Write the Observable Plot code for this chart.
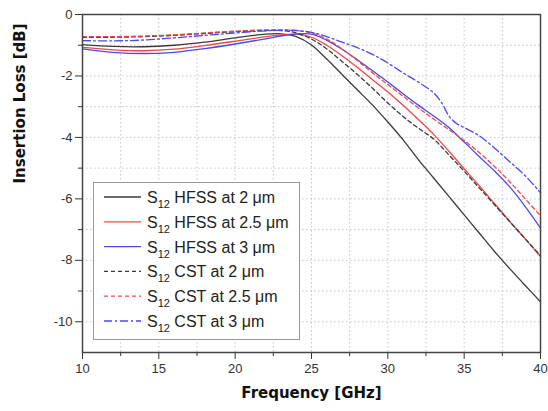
<!DOCTYPE html>
<html>
<head>
<meta charset="utf-8">
<script src="https://cdn.jsdelivr.net/npm/d3@7"></script>
<script src="https://cdn.jsdelivr.net/npm/@observablehq/plot@0.6"></script>
<style>
  html, body { margin: 0; padding: 0; background: #fff; }
  #chart svg { display: block; }
</style>
</head>
<body>
<div id="chart"></div>
<script>
// ---- data ----
const freq = [10,12,14,16,18,20,22,23,24,25,26,27,28,29,30,31,32,33,34,35,36,37,38,39,40];
const hfss2  = [-0.98,-1.04,-1.05,-1.00,-0.90,-0.76,-0.64,-0.63,-0.72,-0.99,-1.45,-1.95,-2.45,-2.95,-3.50,-4.08,-4.72,-5.32,-5.92,-6.52,-7.12,-7.72,-8.28,-8.82,-9.35];
const hfss25 = [-1.07,-1.15,-1.18,-1.13,-1.01,-0.87,-0.72,-0.66,-0.64,-0.74,-1.00,-1.34,-1.72,-2.12,-2.52,-2.95,-3.42,-3.90,-4.45,-5.02,-5.58,-6.16,-6.74,-7.30,-7.88];
const hfss3  = [-1.12,-1.23,-1.27,-1.23,-1.11,-0.96,-0.79,-0.70,-0.64,-0.64,-0.84,-1.13,-1.47,-1.83,-2.20,-2.58,-2.95,-3.30,-3.68,-4.15,-4.63,-5.10,-5.62,-6.25,-6.95];
const cst2   = [-0.74,-0.74,-0.72,-0.68,-0.62,-0.56,-0.52,-0.52,-0.60,-0.80,-1.12,-1.53,-1.95,-2.40,-2.88,-3.32,-3.70,-4.05,-4.57,-5.10,-5.65,-6.20,-6.75,-7.30,-7.85];
const cst25  = [-0.72,-0.72,-0.70,-0.66,-0.60,-0.54,-0.50,-0.50,-0.52,-0.60,-0.80,-1.12,-1.50,-1.90,-2.28,-2.66,-3.04,-3.40,-3.75,-4.10,-4.50,-4.95,-5.45,-6.00,-6.55];
const freqCst3 = [10,12,14,16,18,20,22,24,25,26,27,28,29,30,31,32,33,33.5,34,34.5,35,36,37,38,39,40];
const cst3   = [-0.85,-0.86,-0.83,-0.76,-0.68,-0.60,-0.53,-0.52,-0.58,-0.72,-0.90,-1.08,-1.30,-1.58,-1.90,-2.20,-2.55,-2.85,-3.30,-3.55,-3.68,-3.95,-4.35,-4.80,-5.25,-5.80];

const seriesNames = ["HFSS at 2 μm","HFSS at 2.5 μm","HFSS at 3 μm","CST at 2 μm","CST at 2.5 μm","CST at 3 μm"];
const xTicks = [10,15,20,25,30,35,40];
const xMinor = [12.5,17.5,22.5,27.5,32.5,37.5];
const yTicks = [0,-2,-4,-6,-8,-10];
const yMinor = [-1,-3,-5,-7,-9];
const xGrid = [12.5,15,17.5,20,22.5,25,27.5,30,32.5,35,37.5];
const yGrid = [-1,-2,-3,-4,-5,-6,-7,-8,-9,-10];

// ---- styles ----
const styles = [
  {color:"#3a3a3a", dash:null},
  {color:"#ee4848", dash:null},
  {color:"#4a4aee", dash:null},
  {color:"#3a3a3a", dash:"4,3"},
  {color:"#ee4848", dash:"4,3"},
  {color:"#4a4aee", dash:"8,3,2,3"}
];
const xs = [freq,freq,freq,freq,freq,freqCst3];
const ys = [hfss2,hfss25,hfss3,cst2,cst25,cst3];
const tables = ys.map((vals,i) => vals.map((v,j) => ({f: xs[i][j], v, name: seriesNames[i]})));

const chart = Plot.plot({
  width: 548,
  height: 411,
  marginLeft: 82,
  marginRight: 8,
  marginTop: 14,
  marginBottom: 59,
  style: {fontFamily: "'Liberation Sans', Arial, sans-serif", fontSize: "13px", color: "#333", background: "#fff"},
  x: {domain: [10, 40]},
  y: {domain: [-11, 0]},
  marks: [
    Plot.gridX(xGrid, {stroke: "#c4c4c4", strokeOpacity: 1, strokeDasharray: "1.5,2.5"}),
    Plot.gridY(yGrid, {stroke: "#c4c4c4", strokeOpacity: 1, strokeDasharray: "1.5,2.5"}),
    ...tables.map((t,i) => Plot.line(t, {
      x: "f", y: "v", curve: "catmull-rom",
      stroke: styles[i].color, strokeWidth: 1.3,
      strokeDasharray: styles[i].dash
    })),
    Plot.axisX(xTicks, {tickSize: 7, tickPadding: 4, fontSize: 13, label: null, tickFormat: d => String(d)}),
    Plot.axisX(xMinor, {tickSize: 4, text: null, label: null}),
    Plot.axisY(yTicks, {tickSize: 7, tickPadding: 3, fontSize: 13, label: null, tickFormat: d => String(d)}),
    Plot.axisY(yMinor, {tickSize: 4, text: null, label: null}),
    Plot.frame({stroke: "#444", strokeWidth: 1.5}),
    Plot.text(["Frequency [GHz]"], {frameAnchor: "bottom", dy: 45, fontFamily: "'DejaVu Sans', Verdana, sans-serif", fontWeight: "bold", fontSize: 15, fill: "#111"}),
    Plot.text(["Insertion Loss [dB]"], {frameAnchor: "left", dx: -62, rotate: -90, fontFamily: "'DejaVu Sans', Verdana, sans-serif", fontWeight: "bold", fontSize: 15, fill: "#111"})
  ]
});
document.getElementById("chart").appendChild(chart);

// ---- legend (inside the plot area) ----
const svg = d3.select(chart);
const lg = svg.append("g")
  .attr("font-family", "'Liberation Sans', Arial, sans-serif")
  .attr("text-anchor", "start")
  .attr("fill", "#222");
lg.append("rect").attr("x", 93.5).attr("y", 182.5).attr("width", 206).attr("height", 157)
  .attr("fill", "#fff").attr("stroke", "#999").attr("stroke-width", 1);
seriesNames.forEach((name, i) => {
  const cy = 197 + i * 24.8;
  lg.append("line").attr("x1", 104).attr("x2", 141).attr("y1", cy).attr("y2", cy)
    .attr("stroke", styles[i].color).attr("stroke-width", 1.3)
    .attr("stroke-dasharray", styles[i].dash);
  const t = lg.append("text").attr("x", 147).attr("y", cy + 6).attr("font-size", 16).attr("text-anchor", "start");
  t.append("tspan").text("S");
  t.append("tspan").attr("font-size", 11).attr("dy", 5).text("12");
  t.append("tspan").attr("dy", -5).text(" " + name);
});
</script>
</body>
</html>
